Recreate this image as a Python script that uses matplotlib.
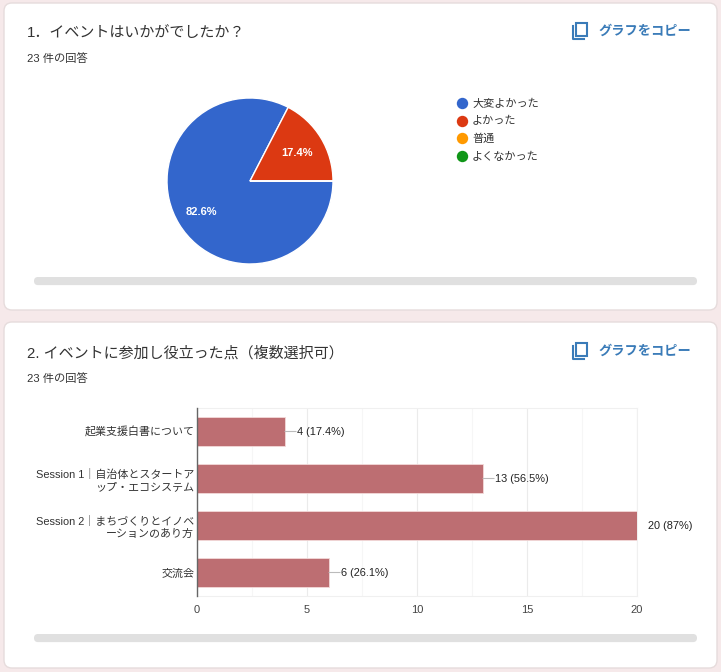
import matplotlib
matplotlib.use('Agg')
import matplotlib.pyplot as plt
from matplotlib.patches import FancyBboxPatch, Rectangle
from matplotlib.lines import Line2D

plt.rcParams['font.family'] = ['Liberation Sans', 'Noto Sans CJK JP', 'DejaVu Sans']

W, H = 721, 672

# 1問目の集計
pie_labels = ['大変よかった', 'よかった', '普通', 'よくなかった']
pie_values = [19, 4, 0, 0]
pie_colors = ['#3366cc', '#dc3912', '#ff9900', '#109618']
pie_pct = ['82.6%', '17.4%']

# 2問目の集計
bar_labels = ['起業支援白書について',
              'Session 1｜自治体とスタートア\nップ・エコシステム',
              'Session 2｜まちづくりとイノベ\nーションのあり方',
              '交流会']
bar_values = [4, 13, 20, 6]
bar_texts = ['4 (17.4%)', '13 (56.5%)', '20 (87%)', '6 (26.1%)']
bar_ticks = [0, 5, 10, 15, 20]

fig = plt.figure(figsize=(W / 100, H / 100), dpi=100, facecolor='#f6e9ea')


def add_axes_px(x0, y0, x1, y1):
    return fig.add_axes([x0 / W, 1 - y1 / H, (x1 - x0) / W, (y1 - y0) / H])


# 背景のカード
bg = fig.add_axes([0, 0, 1, 1])
bg.set_xlim(0, W)
bg.set_ylim(H, 0)
bg.axis('off')


def card(y0, y1):
    bg.add_patch(FancyBboxPatch((4 + 8, y0 + 8), 713 - 16, y1 - y0 - 16,
                                boxstyle='round,pad=8,rounding_size=8',
                                fc='white', ec='#e6dcdc', lw=1))


def scrollbar(y):
    bg.add_patch(FancyBboxPatch((38, y + 4), 655, 0.1,
                                boxstyle='round,pad=4,rounding_size=4',
                                fc='#e0e0e0', ec='none'))


def copy_button(y):
    blue = '#3a7bb8'
    bg.add_patch(Rectangle((576, y - 7.5), 11, 13, fc='none', ec=blue, lw=1.5))
    bg.add_line(Line2D([572.5, 572.5, 584], [y - 4, y + 9, y + 9], color=blue, lw=1.5))
    bg.text(598, y + 4.5, 'グラフをコピー', fontsize=9.5, color=blue, weight='bold',
            va='baseline', ha='left')


card(3, 310)
card(322, 668)
scrollbar(277)
scrollbar(634)
copy_button(30)
copy_button(350)

bg.text(27, 37.5, '1．イベントはいかがでしたか？', fontsize=10.8, color='#333333', va='baseline')
bg.text(27, 62, '23 件の回答', fontsize=8.1, color='#333333', va='baseline')
bg.text(27, 357.5, '2. イベントに参加し役立った点（複数選択可）', fontsize=10.8, color='#333333', va='baseline')
bg.text(27, 382, '23 件の回答', fontsize=8.1, color='#333333', va='baseline')

# 円グラフ
r = 83
pie_ax = add_axes_px(250 - r, 181 - r, 250 + r, 181 + r)
pie_ax.pie(pie_values, colors=pie_colors, startangle=0, counterclock=False,
           radius=1, wedgeprops={'edgecolor': 'white', 'linewidth': 1})
pie_ax.set_xlim(-1, 1)
pie_ax.set_ylim(-1, 1)
pie_ax.text(-0.58, -0.36, pie_pct[0], color='white', fontsize=8, weight='bold',
            family='Liberation Sans', ha='center', va='center_baseline')
pie_ax.text(0.57, 0.35, pie_pct[1], color='white', fontsize=8, weight='bold',
            family='Liberation Sans', ha='center', va='center_baseline')

# 凡例
for i, (lab, col) in enumerate(zip(pie_labels, pie_colors)):
    y = 103 + i * 17.6
    bg.plot([461.5], [y], marker='o', ms=8.2, color=col, mec='none')
    bg.text(472, y + 4, lab, fontsize=8, color='#333333', va='baseline')

# 棒グラフ
ax = add_axes_px(197, 408, 637, 596)
ax.set_facecolor('none')
ax.barh(range(4), bar_values, height=0.61, color='#bd6e72',
        edgecolor='#f3d9d9', linewidth=0.6, zorder=3)
ax.set_xlim(0, 20)
ax.set_ylim(3.5, -0.5)
ax.set_yticks(range(4), bar_labels, fontsize=7.9, color='#333333', linespacing=1.25,
              va='center_baseline')
ax.set_xticks(bar_ticks, [str(t) for t in bar_ticks], fontsize=8, color='#444444',
              family='Liberation Sans')
ax.set_xticks([2.5, 7.5, 12.5, 17.5], minor=True)
ax.tick_params(axis='both', which='both', length=0)
ax.tick_params(axis='y', pad=2)
ax.tick_params(axis='x', pad=6.5)
ax.grid(axis='x', which='major', color='#ebebeb', lw=0.8, zorder=0)
ax.grid(axis='x', which='minor', color='#f6f6f6', lw=0.8, zorder=0)
for side in ['right', 'top', 'bottom']:
    ax.spines[side].set_color('#f0f0f0')
    ax.spines[side].set_linewidth(0.8)
ax.spines['left'].set_color('#666666')
ax.spines['left'].set_linewidth(1)
ax.spines['left'].set_zorder(5)

for i, (v, t) in enumerate(zip(bar_values, bar_texts)):
    if v < 20:
        ax.annotate('', xy=(v, i), xytext=(8, 0), textcoords='offset points',
                    arrowprops=dict(arrowstyle='-', color='#bbbbbb', lw=0.8,
                                    shrinkA=0, shrinkB=0))
        ax.annotate(t, xy=(v, i), xytext=(8.3, -2.7), textcoords='offset points',
                    fontsize=7.9, color='#222222', va='baseline', annotation_clip=False)
    else:
        ax.annotate(t, xy=(v, i), xytext=(8, -2.7), textcoords='offset points',
                    fontsize=7.9, color='#222222', va='baseline', annotation_clip=False)

fig.savefig('out.png', dpi=100)
